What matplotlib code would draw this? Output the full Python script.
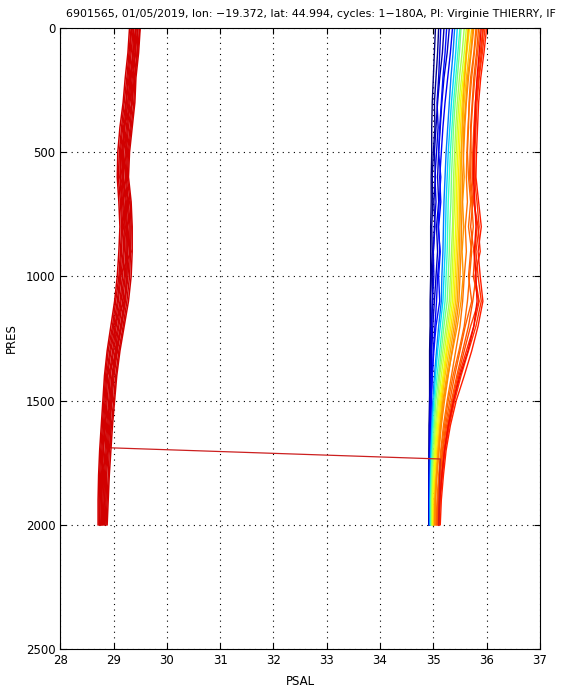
import matplotlib
matplotlib.use('Agg')
import matplotlib.pyplot as plt

# niveaux de pression (dbar) communs a tous les profils
pres = [0, 100, 200, 300, 400, 500, 600, 700, 800, 900, 1000,
        1100, 1200, 1300, 1400, 1500, 1600, 1700, 1800, 1900, 2000]

# profils de salinite, groupe de droite (cycle -> PSAL)
right_cycles = [1, 4, 8, 12, 16, 20, 26, 45, 60, 75, 90, 100, 108, 115,
                120, 126, 132, 135, 138, 142, 144, 146, 148, 150, 154, 156, 158, 162]
right_psal = [
    [35.04, 35.02, 35.00, 34.98, 34.97, 34.97, 34.96, 34.96, 34.95, 34.95, 34.95, 34.94, 34.94, 34.93, 34.93, 34.93, 34.92, 34.92, 34.92, 34.92, 34.92],
    [35.10, 35.08, 35.05, 35.02, 35.03, 35.00, 34.98, 34.99, 34.97, 34.98, 34.96, 34.95, 34.95, 34.94, 34.94, 34.93, 34.93, 34.92, 34.92, 34.92, 34.92],
    [35.20, 35.17, 35.12, 35.08, 35.05, 35.02, 35.04, 35.01, 35.03, 35.00, 34.98, 34.99, 34.96, 34.95, 34.95, 34.94, 34.93, 34.93, 34.92, 34.92, 34.92],
    [35.30, 35.26, 35.20, 35.16, 35.13, 35.10, 35.08, 35.10, 35.06, 35.08, 35.05, 35.02, 34.99, 34.97, 34.96, 34.95, 34.94, 34.93, 34.93, 34.92, 34.92],
    [35.14, 35.12, 35.10, 35.07, 35.09, 35.06, 35.03, 35.05, 35.02, 35.00, 35.01, 34.98, 34.97, 34.96, 34.95, 34.94, 34.93, 34.93, 34.92, 34.92, 34.93],
    [35.36, 35.32, 35.27, 35.22, 35.18, 35.15, 35.12, 35.14, 35.10, 35.12, 35.08, 35.06, 35.03, 35.00, 34.98, 34.96, 34.95, 34.94, 34.93, 34.93, 34.93],
    [35.25, 35.22, 35.18, 35.15, 35.12, 35.10, 35.14, 35.11, 35.09, 35.13, 35.10, 35.12, 35.05, 35.01, 34.98, 34.96, 34.95, 34.94, 34.93, 34.93, 34.93],
    [35.40, 35.37, 35.33, 35.30, 35.27, 35.24, 35.22, 35.20, 35.19, 35.18, 35.16, 35.15, 35.10, 35.06, 35.02, 34.99, 34.97, 34.95, 34.94, 34.94, 34.94],
    [35.45, 35.42, 35.38, 35.34, 35.31, 35.28, 35.26, 35.24, 35.23, 35.22, 35.20, 35.18, 35.13, 35.08, 35.04, 35.01, 34.98, 34.96, 34.95, 34.94, 34.94],
    [35.50, 35.46, 35.42, 35.38, 35.35, 35.32, 35.30, 35.28, 35.27, 35.26, 35.24, 35.22, 35.17, 35.12, 35.07, 35.03, 35.00, 34.98, 34.96, 34.95, 34.95],
    [35.52, 35.49, 35.45, 35.41, 35.38, 35.36, 35.34, 35.33, 35.31, 35.30, 35.28, 35.26, 35.20, 35.15, 35.10, 35.05, 35.02, 34.99, 34.97, 34.96, 34.96],
    [35.58, 35.54, 35.49, 35.45, 35.42, 35.40, 35.38, 35.37, 35.36, 35.34, 35.32, 35.30, 35.24, 35.18, 35.12, 35.08, 35.04, 35.01, 34.99, 34.97, 34.97],
    [35.62, 35.58, 35.53, 35.48, 35.45, 35.43, 35.41, 35.40, 35.38, 35.37, 35.35, 35.33, 35.27, 35.21, 35.15, 35.10, 35.06, 35.03, 35.00, 34.98, 34.98],
    [35.65, 35.61, 35.56, 35.51, 35.48, 35.46, 35.44, 35.43, 35.42, 35.40, 35.38, 35.36, 35.30, 35.24, 35.18, 35.12, 35.08, 35.04, 35.01, 34.99, 34.99],
    [35.68, 35.63, 35.58, 35.54, 35.51, 35.49, 35.47, 35.46, 35.45, 35.43, 35.41, 35.39, 35.33, 35.26, 35.20, 35.14, 35.10, 35.06, 35.03, 35.01, 35.00],
    [35.72, 35.67, 35.62, 35.58, 35.55, 35.52, 35.50, 35.49, 35.48, 35.46, 35.44, 35.42, 35.36, 35.29, 35.22, 35.16, 35.12, 35.08, 35.05, 35.02, 35.01],
    [35.66, 35.62, 35.59, 35.56, 35.54, 35.53, 35.52, 35.51, 35.50, 35.49, 35.47, 35.45, 35.39, 35.32, 35.25, 35.18, 35.13, 35.09, 35.06, 35.03, 35.02],
    [35.74, 35.70, 35.64, 35.61, 35.57, 35.56, 35.58, 35.55, 35.57, 35.54, 35.56, 35.52, 35.45, 35.36, 35.27, 35.19, 35.14, 35.10, 35.06, 35.04, 35.03],
    [35.76, 35.71, 35.66, 35.62, 35.59, 35.57, 35.55, 35.54, 35.53, 35.52, 35.50, 35.48, 35.42, 35.35, 35.28, 35.21, 35.15, 35.11, 35.07, 35.04, 35.03],
    [35.82, 35.77, 35.72, 35.68, 35.65, 35.63, 35.62, 35.64, 35.60, 35.62, 35.58, 35.55, 35.50, 35.42, 35.34, 35.26, 35.19, 35.14, 35.10, 35.07, 35.05],
    [35.80, 35.76, 35.70, 35.67, 35.66, 35.64, 35.66, 35.70, 35.66, 35.72, 35.68, 35.64, 35.58, 35.48, 35.37, 35.28, 35.21, 35.15, 35.11, 35.08, 35.06],
    [35.88, 35.83, 35.78, 35.74, 35.71, 35.69, 35.68, 35.72, 35.75, 35.70, 35.66, 35.72, 35.60, 35.50, 35.40, 35.31, 35.23, 35.17, 35.12, 35.09, 35.07],
    [35.85, 35.81, 35.76, 35.73, 35.70, 35.71, 35.70, 35.74, 35.70, 35.76, 35.80, 35.74, 35.66, 35.55, 35.44, 35.34, 35.25, 35.18, 35.13, 35.10, 35.08],
    [35.93, 35.88, 35.83, 35.79, 35.76, 35.74, 35.73, 35.76, 35.82, 35.78, 35.75, 35.85, 35.70, 35.58, 35.46, 35.36, 35.27, 35.20, 35.15, 35.11, 35.09],
    [35.97, 35.92, 35.86, 35.82, 35.80, 35.78, 35.77, 35.82, 35.86, 35.80, 35.84, 35.90, 35.80, 35.66, 35.52, 35.40, 35.30, 35.22, 35.17, 35.13, 35.11],
    [35.94, 35.90, 35.85, 35.80, 35.78, 35.76, 35.79, 35.76, 35.84, 35.88, 35.78, 35.86, 35.76, 35.62, 35.48, 35.38, 35.29, 35.21, 35.16, 35.12, 35.10],
    [36.00, 35.95, 35.89, 35.85, 35.83, 35.81, 35.80, 35.85, 35.90, 35.84, 35.88, 35.93, 35.84, 35.72, 35.58, 35.43, 35.32, 35.24, 35.19, 35.15, 35.13],
    [35.90, 35.86, 35.82, 35.79, 35.78, 35.76, 35.75, 35.78, 35.80, 35.77, 35.80, 35.82, 35.76, 35.65, 35.50, 35.38, 35.28, 35.21, 35.16, 35.12, 35.10],
]

# groupe de gauche (capteur derive), derniers cycles
left_psal = [
    [29.30, 29.27, 29.22, 29.18, 29.12, 29.08, 29.07, 29.10, 29.12, 29.10, 29.07, 29.02, 28.95, 28.88, 28.83, 28.80, 28.77, 28.74, 28.72, 28.71, 28.71],
    [29.33, 29.29, 29.25, 29.20, 29.15, 29.11, 29.09, 29.13, 29.15, 29.13, 29.10, 29.04, 28.98, 28.90, 28.85, 28.82, 28.79, 28.76, 28.74, 28.73, 28.73],
    [29.34, 29.31, 29.27, 29.23, 29.17, 29.13, 29.12, 29.15, 29.17, 29.15, 29.12, 29.07, 29.00, 28.93, 28.87, 28.84, 28.81, 28.78, 28.76, 28.75, 28.74],
    [29.37, 29.33, 29.29, 29.24, 29.20, 29.15, 29.13, 29.17, 29.20, 29.18, 29.14, 29.09, 29.03, 28.95, 28.89, 28.86, 28.83, 28.80, 28.78, 28.77, 28.76],
    [29.38, 29.36, 29.31, 29.27, 29.21, 29.17, 29.16, 29.19, 29.22, 29.20, 29.17, 29.12, 29.05, 28.98, 28.92, 28.88, 28.85, 28.81, 28.79, 28.78, 28.78],
    [29.41, 29.37, 29.33, 29.29, 29.24, 29.19, 29.18, 29.22, 29.24, 29.23, 29.20, 29.14, 29.08, 29.00, 28.94, 28.91, 28.87, 28.84, 28.81, 28.80, 28.79],
    [29.42, 29.40, 29.35, 29.31, 29.26, 29.22, 29.19, 29.24, 29.26, 29.25, 29.22, 29.17, 29.10, 29.03, 28.97, 28.93, 28.89, 28.86, 28.83, 28.82, 28.81],
    [29.45, 29.41, 29.37, 29.34, 29.28, 29.24, 29.22, 29.26, 29.29, 29.27, 29.25, 29.20, 29.13, 29.05, 28.99, 28.95, 28.91, 28.88, 28.85, 28.84, 28.83],
    [29.46, 29.44, 29.39, 29.35, 29.31, 29.26, 29.24, 29.28, 29.31, 29.30, 29.27, 29.22, 29.15, 29.07, 29.01, 28.97, 28.93, 28.90, 28.87, 28.86, 28.84],
    [29.49, 29.45, 29.40, 29.38, 29.33, 29.28, 29.26, 29.31, 29.33, 29.32, 29.30, 29.25, 29.18, 29.10, 29.04, 29.00, 28.96, 28.92, 28.90, 28.88, 28.86],
    [29.50, 29.47, 29.42, 29.40, 29.35, 29.30, 29.28, 29.33, 29.35, 29.35, 29.33, 29.28, 29.20, 29.12, 29.06, 29.02, 28.98, 28.95, 28.92, 28.90, 28.88],
    [29.36, 29.42, 29.30, 29.36, 29.18, 29.26, 29.12, 29.30, 29.18, 29.33, 29.12, 29.20, 29.00, 29.08, 28.88, 28.98, 28.80, 28.90, 28.76, 28.84, 28.76],
]

# profil avec saut de salinite
jump_pres = [0, 100, 200, 300, 400, 500, 600, 700, 800, 900, 1000, 1100, 1200,
             1300, 1400, 1500, 1600, 1690, 1735, 1800, 1900, 2000]
jump_psal = [29.43, 29.38, 29.32, 29.26, 29.21, 29.17, 29.16, 29.19, 29.25, 29.26,
             29.24, 29.22, 29.15, 29.05, 28.98, 28.95, 28.94, 28.94, 35.13, 35.12,
             35.11, 35.10]

n_cycles = 180
cmap = plt.get_cmap('jet')

fig = plt.figure(figsize=(5.63, 6.90), dpi=100)
ax = fig.add_axes([0.107, 0.0594, 0.852, 0.9])

for c, s in zip(right_cycles, right_psal):
    ax.plot(s, pres, color=cmap((c - 1) / (n_cycles - 1)), lw=1.0)

ax.plot(jump_psal, jump_pres, color=(0.8, 0.12, 0.12), lw=0.9)

for s in left_psal:
    ax.plot(s, pres, color=(0.82, 0.0, 0.0), lw=1.1)

ax.set_xlim(28, 37)
ax.set_ylim(2500, 0)
ax.set_xticks(range(28, 38))
ax.set_yticks([0, 500, 1000, 1500, 2000, 2500])
ax.grid(True, color='k', linestyle=(0, (1, 4)), linewidth=0.8)
ax.tick_params(direction='in', top=True, right=True, labelsize=8.5, length=4)
for sp in ax.spines.values():
    sp.set_linewidth(0.8)

ax.set_xlabel('PSAL', fontsize=8.5, labelpad=6)
ax.set_ylabel('PRES', fontsize=8.5, labelpad=6)
ax.set_title('6901565, 01/05/2019, lon: \u221219.372, lat: 44.994, cycles: 1\u2212180A, PI: Virginie THIERRY, IF',
             fontsize=7.9, pad=8, x=0.522)

fig.savefig('out.png', dpi=100)
